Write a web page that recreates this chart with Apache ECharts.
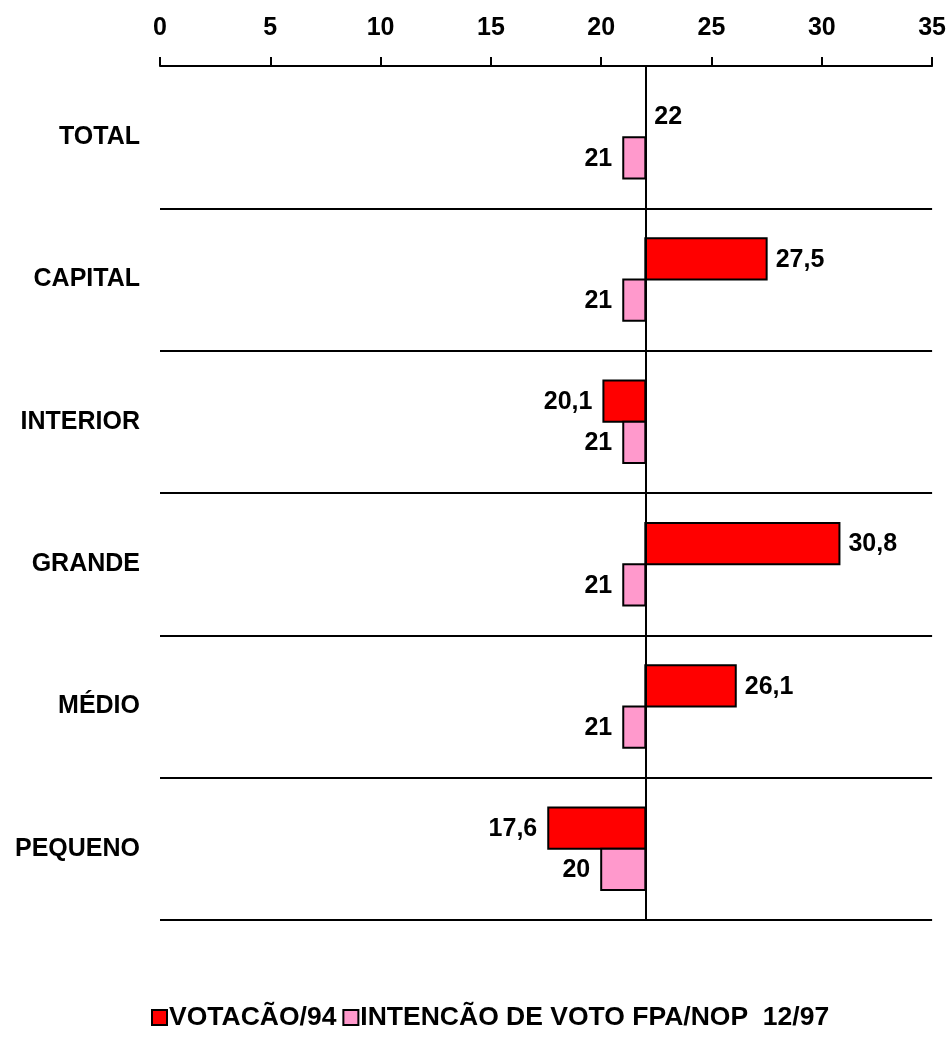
<!DOCTYPE html>
<html>
<head>
<meta charset="utf-8">
<script src="https://cdn.jsdelivr.net/npm/echarts@6/dist/echarts.min.js"></script>
<style>html,body{margin:0;padding:0;background:#fff}#c{width:949px;height:1055px}</style>
</head>
<body>
<div id="c"></div>
<script>
const categories = ['TOTAL', 'CAPITAL', 'INTERIOR', 'GRANDE', 'MÉDIO', 'PEQUENO'];
const votacao94 = [22, 27.5, 20.1, 30.8, 26.1, 17.6];
const intencao97 = [21, 21, 21, 21, 21, 20];
const baseline = 22;
const seriesNames = ['VOTACÃO/94', 'INTENCÃO DE VOTO FPA/NOP  12/97'];
const xTicks = {min: 0, max: 35, interval: 5};

const FONT = '"Liberation Sans", Arial, sans-serif';
const fmt = v => String(v).replace('.', ',');

function makeRender(color, upper) {
  return function (params, api) {
    const v = api.value(0);
    const idx = api.value(1);
    const p0 = api.coord([baseline, idx]);
    const p1 = api.coord([v, idx]);
    const band = api.size([0, 1])[1];
    const bw = band * 0.29;
    const yTop = upper ? p0[1] - bw : p0[1];
    const x = Math.min(p0[0], p1[0]);
    const w = Math.abs(p1[0] - p0[0]);
    const right = v >= baseline;
    const children = [];
    if (w > 0.5) {
      children.push({
        type: 'rect',
        shape: {x: x, y: yTop, width: w, height: bw},
        style: {fill: color, stroke: '#000', lineWidth: 2}
      });
    }
    children.push({
      type: 'text',
      style: {
        text: fmt(v),
        x: right ? p1[0] + 9 : p1[0] - 11,
        y: yTop + bw / 2 + 1,
        align: right ? 'left' : 'right',
        verticalAlign: 'middle',
        fill: '#000',
        font: 'bold 25px ' + FONT
      }
    });
    return {type: 'group', children: children};
  };
}

const chart = echarts.init(document.getElementById('c'), null, {renderer: 'canvas'});
chart.setOption({
  animation: false,
  backgroundColor: '#fff',
  textStyle: {fontFamily: FONT},
  grid: {left: 160, right: 16, top: 66, bottom: 135, containLabel: false},
  legend: {
    bottom: 19,
    left: 146,
    itemWidth: 15,
    itemHeight: 15,
    itemGap: 6,
    icon: 'rect',
    textStyle: {fontFamily: FONT, fontWeight: 'bold', fontSize: 26.5, color: '#000', padding: [0, 0, 0, -3]},
    data: seriesNames
  },
  xAxis: {
    type: 'value',
    position: 'top',
    min: xTicks.min, max: xTicks.max, interval: xTicks.interval,
    axisLine: {show: true, lineStyle: {color: '#000', width: 2}},
    axisTick: {show: true, length: 9, lineStyle: {color: '#000', width: 2}},
    axisLabel: {fontFamily: FONT, fontWeight: 'bold', fontSize: 25, color: '#000', margin: 25},
    splitLine: {show: false}
  },
  yAxis: {
    type: 'category',
    inverse: true,
    data: categories,
    axisLine: {show: false},
    axisTick: {show: false},
    axisLabel: {fontFamily: FONT, fontWeight: 'bold', fontSize: 25, color: '#000', margin: 20},
    splitLine: {show: true, lineStyle: {color: '#000', width: 2}}
  },
  series: [
    {
      name: seriesNames[0],
      type: 'custom',
      renderItem: makeRender('#FF0000', true),
      encode: {x: 0, y: 1},
      data: votacao94.map((v, i) => [v, i]),
      itemStyle: {color: '#FF0000', borderColor: '#000', borderWidth: 1.5},
      z: 3,
      markLine: {
        silent: true,
        symbol: 'none',
        label: {show: false},
        lineStyle: {color: '#000', width: 2, type: 'solid'},
        data: [{xAxis: baseline}],
        z: 5
      }
    },
    {
      name: seriesNames[1],
      type: 'custom',
      renderItem: makeRender('#FF99CC', false),
      encode: {x: 0, y: 1},
      data: intencao97.map((v, i) => [v, i]),
      itemStyle: {color: '#FF99CC', borderColor: '#000', borderWidth: 1.5},
      z: 3
    }
  ]
});
</script>
</body>
</html>
